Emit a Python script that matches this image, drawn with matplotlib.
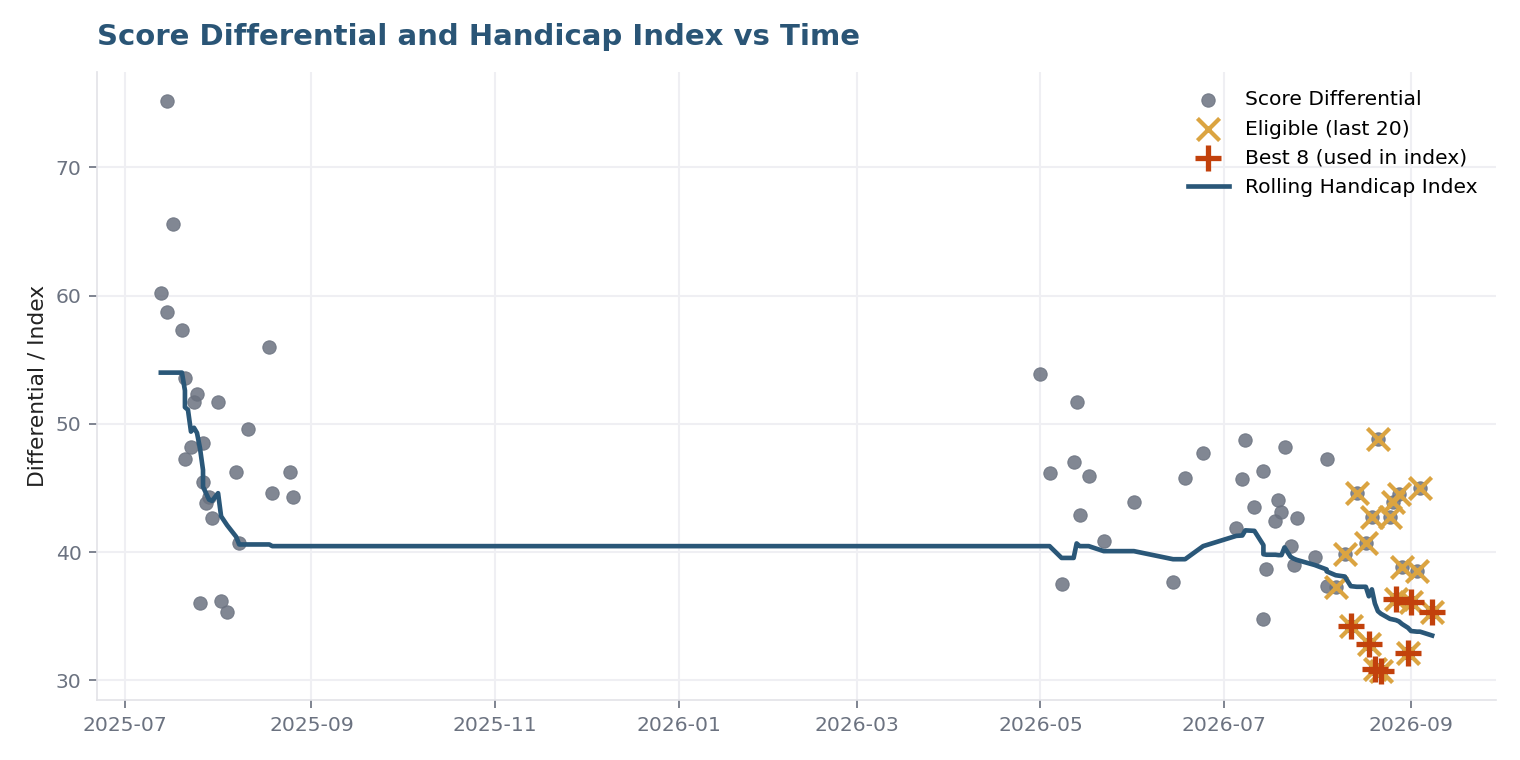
import numpy as np
import pandas as pd
import matplotlib
matplotlib.use('Agg')
from matplotlib import pyplot as plt
import matplotlib.dates as mdates

# all score differentials
round_dates = [
    '2025-07-13', '2025-07-15', '2025-07-15', '2025-07-17', '2025-07-20', '2025-07-21',
    '2025-07-21', '2025-07-23', '2025-07-24', '2025-07-25', '2025-07-26', '2025-07-27',
    '2025-07-27', '2025-07-28', '2025-07-29', '2025-07-30', '2025-08-01', '2025-08-02',
    '2025-08-04', '2025-08-07', '2025-08-08', '2025-08-11', '2025-08-18', '2025-08-19',
    '2025-08-25', '2025-08-26',
    '2026-05-01', '2026-05-04', '2026-05-08', '2026-05-12', '2026-05-13', '2026-05-14',
    '2026-05-17', '2026-05-22', '2026-06-01', '2026-06-14', '2026-06-18', '2026-06-24',
    '2026-07-05', '2026-07-07', '2026-07-08', '2026-07-11', '2026-07-14', '2026-07-14',
    '2026-07-15', '2026-07-18', '2026-07-19', '2026-07-20', '2026-07-21', '2026-07-23',
    '2026-07-24', '2026-07-25', '2026-07-31', '2026-08-04', '2026-08-04',
    '2026-08-07', '2026-08-10', '2026-08-12', '2026-08-14', '2026-08-17', '2026-08-18',
    '2026-08-19', '2026-08-20', '2026-08-21', '2026-08-22', '2026-08-25', '2026-08-26',
    '2026-08-27', '2026-08-28', '2026-08-29', '2026-08-31', '2026-09-01', '2026-09-03',
    '2026-09-04', '2026-09-08',
]
differentials = [
    60.2, 75.2, 58.7, 65.6, 57.3, 53.6,
    47.3, 48.2, 51.7, 52.3, 36.0, 48.5,
    45.5, 43.8, 44.3, 42.65, 51.7, 36.2,
    35.3, 46.25, 40.7, 49.6, 56.0, 44.6,
    46.25, 44.3,
    53.9, 46.2, 37.5, 47.0, 51.7, 42.9,
    45.9, 40.9, 43.9, 37.7, 45.8, 47.7,
    41.9, 45.7, 48.75, 43.5, 46.3, 34.8,
    38.7, 42.4, 44.05, 43.1, 48.2, 40.5,
    39.0, 42.7, 39.6, 47.25, 37.4,
    37.25, 39.85, 34.25, 44.6, 40.7, 32.8,
    42.75, 30.9, 48.8, 30.7, 42.75, 43.9,
    36.35, 44.5, 38.85, 32.15, 36.1, 38.5,
    45.0, 35.3,
]

# last 20 rounds
eligible_dates = [
    '2026-08-07', '2026-08-10', '2026-08-12', '2026-08-14', '2026-08-17', '2026-08-18',
    '2026-08-19', '2026-08-20', '2026-08-21', '2026-08-22', '2026-08-25', '2026-08-26',
    '2026-08-27', '2026-08-28', '2026-08-29', '2026-08-31', '2026-09-01', '2026-09-03',
    '2026-09-04', '2026-09-08',
]
eligible_vals = [
    37.25, 39.85, 34.25, 44.6, 40.7, 32.8,
    42.75, 30.9, 48.8, 30.7, 42.75, 43.9,
    36.35, 44.5, 38.85, 32.15, 36.1, 38.5,
    45.0, 35.3,
]

# best 8 of those
best_dates = ['2026-08-12', '2026-08-18', '2026-08-20', '2026-08-22',
              '2026-08-27', '2026-08-31', '2026-09-01', '2026-09-08']
best_vals = [34.25, 32.8, 30.9, 30.7, 36.35, 32.15, 36.1, 35.3]

# rolling handicap index
index_dates = [
    '2025-07-13', '2025-07-15', '2025-07-17', '2025-07-20', '2025-07-21', '2025-07-21',
    '2025-07-22', '2025-07-23', '2025-07-24', '2025-07-25', '2025-07-26', '2025-07-27',
    '2025-07-27', '2025-07-28', '2025-07-29', '2025-07-30', '2025-08-01', '2025-08-02',
    '2025-08-04', '2025-08-07', '2025-08-08', '2025-08-11', '2025-08-18', '2025-08-19',
    '2025-08-25', '2025-08-26',
    '2026-05-01', '2026-05-04', '2026-05-08', '2026-05-12', '2026-05-13', '2026-05-14',
    '2026-05-17', '2026-05-22', '2026-06-01', '2026-06-14', '2026-06-18', '2026-06-24',
    '2026-07-05', '2026-07-07', '2026-07-08', '2026-07-11', '2026-07-14', '2026-07-14',
    '2026-07-15', '2026-07-18', '2026-07-19', '2026-07-20', '2026-07-21', '2026-07-23',
    '2026-07-24', '2026-07-25', '2026-07-31', '2026-08-04', '2026-08-04',
    '2026-08-07', '2026-08-10', '2026-08-12', '2026-08-14', '2026-08-17', '2026-08-18',
    '2026-08-19', '2026-08-20', '2026-08-21', '2026-08-22', '2026-08-25', '2026-08-26',
    '2026-08-27', '2026-08-28', '2026-08-29', '2026-08-31', '2026-09-01', '2026-09-03',
    '2026-09-04', '2026-09-08',
]
index_vals = [
    54.0, 54.0, 54.0, 54.0, 52.6, 51.3,
    51.1, 49.4, 49.7, 49.3, 48.1, 46.4,
    45.1, 44.6, 44.1, 44.0, 44.6, 42.8,
    42.1, 41.2, 40.6, 40.6, 40.6, 40.47,
    40.47, 40.47,
    40.47, 40.47, 39.55, 39.55, 40.68, 40.47,
    40.47, 40.08, 40.08, 39.45, 39.45, 40.47,
    41.27, 41.3, 41.7, 41.66, 40.55, 39.84,
    39.8, 39.8, 39.77, 39.77, 40.37, 39.64,
    39.5, 39.4, 39.0, 38.65, 38.5,
    38.2, 38.1, 37.35, 37.3, 37.3, 36.56,
    37.1, 36.0, 35.4, 35.2, 34.8, 34.75,
    34.7, 34.6, 34.4, 34.1, 33.85, 33.8,
    33.8, 33.5,
]

GRAY = '#6b7280'
GOLD = '#dba441'
RUST = '#c2410c'
NAVY = '#2a5778'

fig = plt.figure(figsize=(10, 5), dpi=152)
ax = fig.add_axes([0.064, 0.079, 0.92, 0.826])

ax.scatter(pd.to_datetime(round_dates), differentials, s=40, color=GRAY, alpha=0.85,
           edgecolors=GRAY, linewidths=0.5, label='Score Differential', zorder=3)
ax.scatter(pd.to_datetime(eligible_dates), eligible_vals, s=110, marker='x', color=GOLD,
           linewidths=2, label='Eligible (last 20)', zorder=4)
ax.scatter(pd.to_datetime(best_dates), best_vals, s=150, marker='+', color=RUST,
           linewidths=2.5, label='Best 8 (used in index)', zorder=5)
ax.plot(pd.to_datetime(index_dates), index_vals, color=NAVY, lw=2.2,
        label='Rolling Handicap Index', zorder=4)

ax.xaxis.set_major_locator(mdates.MonthLocator(bymonth=[1, 3, 5, 7, 9, 11]))
ax.xaxis.set_major_formatter(mdates.DateFormatter('%Y-%m'))
ax.set_yticks([30, 40, 50, 60, 70])

ax.grid(True, color='#efeff3', lw=1)
ax.set_axisbelow(True)
for s in ['top', 'right']:
    ax.spines[s].set_visible(False)
for s in ['left', 'bottom']:
    ax.spines[s].set_color('#e3e3e8')
ax.tick_params(colors=GRAY, labelsize=9.6, length=4)

ax.set_ylabel('Differential / Index', fontsize=10.3, color='#222222')
ax.set_title('Score Differential and Handicap Index vs Time', loc='left',
             fontsize=13.8, fontweight='bold', color='#2a5576', pad=13)

ax.legend(loc='upper right', frameon=False, fontsize=9.6)

fig.savefig('out.png', dpi=152)
